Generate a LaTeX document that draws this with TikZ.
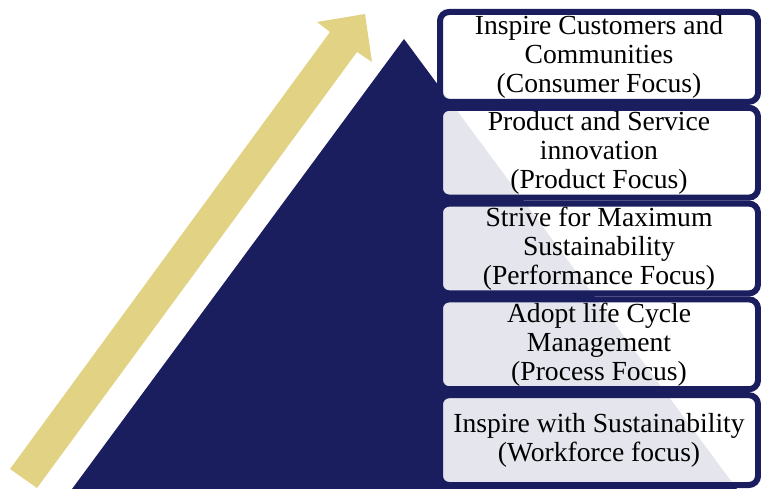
\documentclass[tikz,border=0pt]{standalone}
\usepackage{fontspec}
\setmainfont{Liberation Serif}
\definecolor{navy}{RGB}{26,29,94}
\definecolor{gold}{RGB}{226,210,132}
\tikzset{
  stage/.style={
    draw=navy, line width=6pt, rounded corners=9pt,
    fill=white, fill opacity=0.89, text opacity=1,
    minimum width=318pt, minimum height=89.8pt, inner sep=0pt,
    align=center, font=\fontsize{27.6}{29}\selectfont
  }
}
\begin{document}
\begin{tikzpicture}[x=1pt,y=-1pt]
  \useasboundingbox (0,0) rectangle (761,489);
  % mountain
  \fill[navy] (404,39) -- (72,489) -- (737,489) -- cycle;
  % rising arrow
  \fill[gold] (10,469) -- (330,32) -- (317,22) -- (365,14) -- (372,62)
              -- (357,52) -- (37,488) -- cycle;
  % stages
  \node[stage] (s1) at (599,56.9)  {Inspire Customers and\\Communities\\(Consumer Focus)};
  \node[stage] (s2) at (599,152.7) {Product and Service\\innovation\\(Product Focus)};
  \node[stage] (s3) at (599,248.5) {Strive for Maximum\\Sustainability\\(Performance Focus)};
  \node[stage] (s4) at (599,344.3) {Adopt life Cycle\\Management\\(Process Focus)};
  \node[stage] (s5) at (599,440.1) {Inspire with Sustainability\\(Workforce focus)};
\end{tikzpicture}
\end{document}
